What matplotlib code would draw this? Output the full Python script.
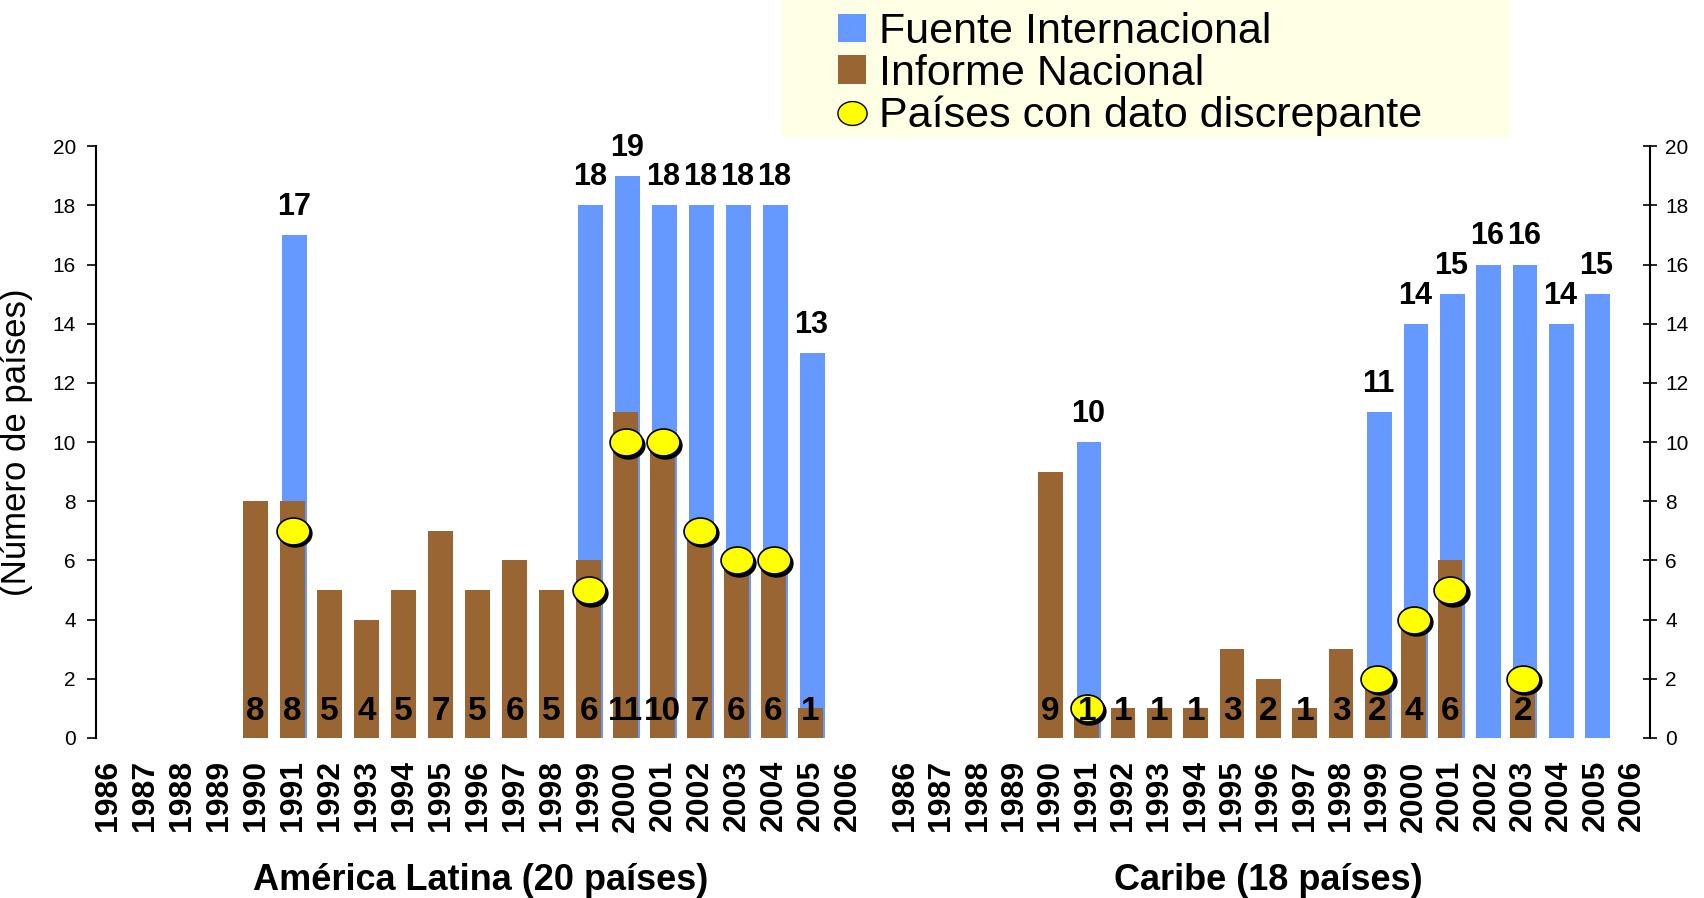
import numpy as np
import matplotlib
matplotlib.use("Agg")
import matplotlib.pyplot as plt
import matplotlib.transforms as mtransforms
from matplotlib.path import Path
from matplotlib.markers import MarkerStyle
from matplotlib.patches import Patch, Rectangle
from matplotlib.lines import Line2D

plt.rcParams['font.family'] = ['Liberation Sans', 'DejaVu Sans']

# ---- data ----
years = [str(y) for y in range(1986, 2007)]        # tick labels
bar_years = list(range(1990, 2006))                # years that have bars

# America Latina (20 paises)
al_fuente = [0, 17, 0, 0, 0, 0, 0, 0, 0, 18, 19, 18, 18, 18, 18, 13]
al_informe = [8, 8, 5, 4, 5, 7, 5, 6, 5, 6, 11, 10, 7, 6, 6, 1]
al_disc_years = [1991, 1999, 2000, 2001, 2002, 2003, 2004]
al_disc = [7, 5, 10, 10, 7, 6, 6]

# Caribe (18 paises)
ca_fuente = [0, 10, 0, 0, 0, 0, 0, 0, 0, 11, 14, 15, 16, 16, 14, 15]
ca_informe = [9, 1, 1, 1, 1, 3, 2, 1, 3, 2, 4, 6, 0, 2, 0, 0]
ca_disc_years = [1991, 1999, 2000, 2001, 2003]
ca_disc = [1, 2, 4, 5, 2]

blue = '#6699FF'
brown = '#996633'
yellow = '#FFFF00'

# slightly wide ellipse marker, like the original
t = np.linspace(0, 2 * np.pi, 64)
ellipse = MarkerStyle(Path(np.c_[1.22 * np.cos(t), np.sin(t)], closed=True))

fig = plt.figure(figsize=(17.04, 8.98), dpi=100)
ax1 = fig.add_axes([0.0563, 0.1782, 0.4519, 0.659])
ax2 = fig.add_axes([0.5205, 0.1782, 0.4478, 0.659])


def draw_panel(ax, fuente, informe, dyears, dvals, title):
    x = np.array(bar_years) - 1986
    w = 0.68
    ax.bar(x + 0.06, fuente, width=w, color=blue, linewidth=0, zorder=1)
    ax.bar(x, informe, width=w, color=brown, linewidth=0, zorder=2)

    # discrepant countries: black shadow + yellow ellipse
    xd = np.array(dyears) - 1986
    shadow = mtransforms.offset_copy(ax.transData, fig=fig, x=2.5, y=-2.5, units='dots')
    ax.scatter(xd, dvals, s=560, marker=ellipse, color='black', transform=shadow, zorder=3)
    ax.scatter(xd, dvals, s=560, marker=ellipse, facecolor=yellow, edgecolor='black',
               linewidth=1.2, zorder=4)

    for xi, v in zip(x, fuente):
        if v:
            ax.text(xi + 0.03, v + 0.95, str(v), ha='center', va='center',
                    fontsize=22, fontweight='bold', zorder=5)
    for xi, v in zip(x, informe):
        if v:
            ax.text(xi, 0.88, str(v), ha='center', va='center',
                    fontsize=24, fontweight='bold', zorder=5)

    ax.set_ylim(0, 20)
    ax.set_yticks(range(0, 21, 2))
    ax.set_xticks(range(len(years)), years, rotation=90, fontsize=23, fontweight='bold')
    ax.tick_params(axis='x', length=0, pad=16)
    for s in ['top', 'bottom', 'left', 'right']:
        ax.spines[s].set_visible(False)
    ax.set_xlabel(title, fontsize=26, fontweight='bold')
    ax.xaxis.set_label_coords(0.5, -0.24)
    ax.xaxis.label.set_verticalalignment('center')


draw_panel(ax1, al_fuente, al_informe, al_disc_years, al_disc, 'América Latina (20 países)')
draw_panel(ax2, ca_fuente, ca_informe, ca_disc_years, ca_disc, 'Caribe (18 países)')

ax1.set_xlim(-0.32, 20.5)
ax1.spines['left'].set_visible(True)
ax1.spines['left'].set_linewidth(1.5)
ax1.tick_params(axis='y', direction='out', length=6.5, width=1.2, labelsize=15, pad=8)
ax1.set_ylabel('(Número de países)', fontsize=25)
ax1.yaxis.set_label_coords(-0.082, 0.5)

ax2.set_xlim(-0.5, 20.5)
ax2.spines['right'].set_visible(True)
ax2.spines['right'].set_linewidth(1.5)
ax2.yaxis.tick_right()
ax2.tick_params(axis='y', direction='inout', length=10, width=1.2, labelsize=15, pad=6)

# legend with cream background box
fig.patches.append(Rectangle((782 / 1704, 1 - 138 / 898), 728 / 1704, 138 / 898,
                             transform=fig.transFigure, facecolor='#FFFFE6',
                             edgecolor='none', zorder=0))
handles = [Patch(facecolor=blue), Patch(facecolor=brown),
           Line2D([], [], marker=ellipse, linestyle='', markersize=21,
                  markerfacecolor=yellow, markeredgecolor='black')]
labels = ['Fuente Internacional', 'Informe Nacional', 'Países con dato discrepante']
fig.legend(handles, labels, loc='upper left', bbox_to_anchor=(838 / 1704, 1 - 12 / 898),
           frameon=False, fontsize=31, handlelength=0.65, handleheight=0.65,
           handletextpad=0.3, labelspacing=0.045, borderpad=0, borderaxespad=0)

fig.savefig('out.png', dpi=100)
